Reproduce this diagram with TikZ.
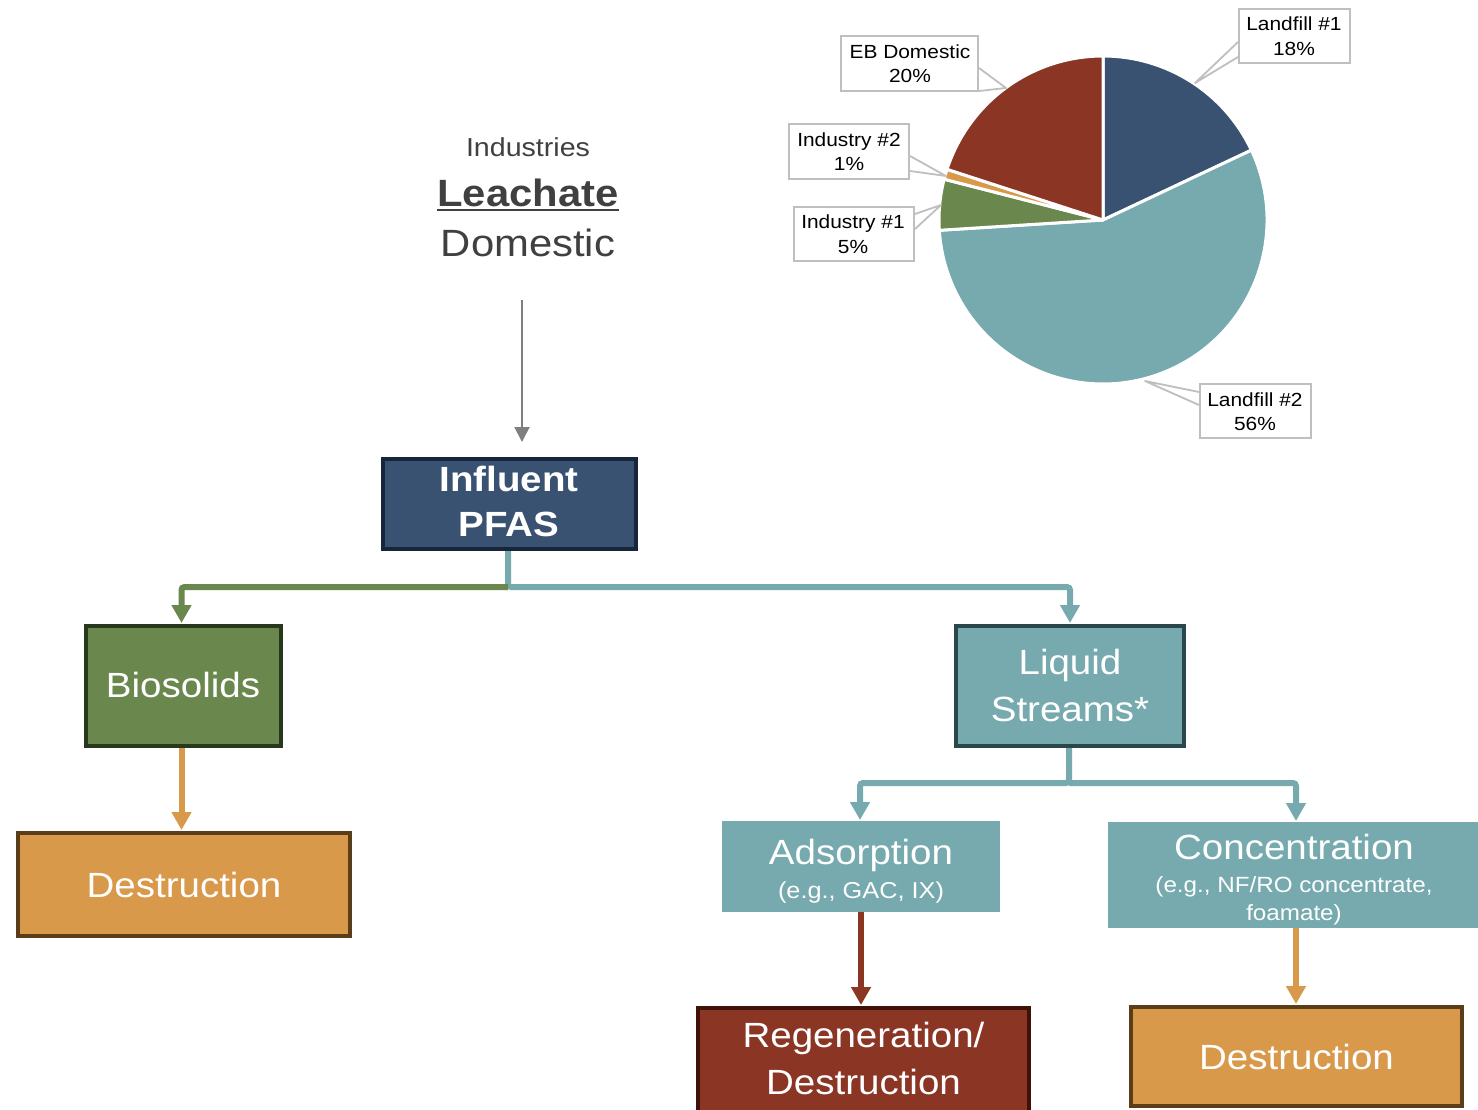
\documentclass[tikz,border=0pt]{standalone}
\usepackage{fontspec}
\setmainfont{Liberation Sans}[FakeStretch=1.1]
\usetikzlibrary{arrows.meta}

\definecolor{navy}{HTML}{3A5272}
\definecolor{navyline}{HTML}{18243A}
\definecolor{tealc}{HTML}{76AAAE}
\definecolor{tealline}{HTML}{2C474B}
\definecolor{greenc}{HTML}{6A874E}
\definecolor{greenline}{HTML}{27381C}
\definecolor{orangec}{HTML}{D9994A}
\definecolor{orangeline}{HTML}{5C3D19}
\definecolor{redc}{HTML}{8B3624}
\definecolor{redline}{HTML}{3E1209}
\definecolor{labelgray}{HTML}{BFBFBF}
\definecolor{titlegray}{HTML}{404040}
\definecolor{arrowgray}{HTML}{7F7F7F}

\newcommand\setfs[1]{\fontsize{#1}{#1}\selectfont}

\begin{document}
\begin{tikzpicture}[x=1pt,y=-1pt,
  box/.style={rectangle, inner sep=0pt, line width=4pt},
  boxtxt/.style={anchor=base, inner sep=0pt, text=white, font=\setfs{35}},
  subtxt/.style={anchor=base, inner sep=0pt, text=white, font=\setfs{#1}},
  pietxt/.style={anchor=base, inner sep=0pt, text=black, font=\setfs{19}},
  pielabel/.style={rectangle, inner sep=0pt, draw=labelgray, fill=white, line width=1.8pt},
  callout/.style={draw=labelgray, line width=1.8pt, line join=round},
  flow/.style={line width=6pt, rounded corners=3pt, -{Triangle[width=19pt,length=18pt]}},
  slice/.style={draw=white, line width=3pt, line join=round}
]
\useasboundingbox (0,0) rectangle (1478,1110);
\clip (0,0) rectangle (1478,1110);
\fill[white] (0,0) rectangle (1478,1110);

% ---------- pie chart of influent sources ----------
\begin{scope}[y=1pt, shift={(1103pt,-220pt)}]
  \filldraw[slice, fill=navy]    (0,0) -- (90:164)    arc[start angle=90,    end angle=25.2,   radius=164] -- cycle;
  \filldraw[slice, fill=tealc]   (0,0) -- (25.2:164)  arc[start angle=25.2,  end angle=-176.4, radius=164] -- cycle;
  \filldraw[slice, fill=greenc]  (0,0) -- (183.6:164) arc[start angle=183.6, end angle=165.6,  radius=164] -- cycle;
  \filldraw[slice, fill=orangec] (0,0) -- (165.6:164) arc[start angle=165.6, end angle=162,    radius=164] -- cycle;
  \filldraw[slice, fill=redc]    (0,0) -- (162:164)   arc[start angle=162,   end angle=90,     radius=164] -- cycle;
\end{scope}

% callout pointers
\coordinate (l1a) at (1238,42);  \coordinate (l1b) at (1238,57);  \coordinate (l1t) at (1195,83);
\coordinate (eba) at (979,68);   \coordinate (ebb) at (979,91);   \coordinate (ebt) at (1006,88);
\coordinate (i2a) at (910,156);  \coordinate (i2b) at (910,171);  \coordinate (i2t) at (946,176);
\coordinate (i1a) at (915,214);  \coordinate (i1b) at (915,229);  \coordinate (i1t) at (941,205);
\coordinate (l2a) at (1199,392); \coordinate (l2b) at (1199,405); \coordinate (l2t) at (1145,381);
\foreach \c in {l1,eb,i2,i1,l2}{
  \fill[white] (\c a) -- (\c t) -- (\c b) -- cycle;
  \draw[callout] (\c a) -- (\c t) -- (\c b);
}

% label boxes
\node[pielabel, minimum width=111, minimum height=54] (boxL1) at (1294.5,36) {};
\node[pielabel, minimum width=137, minimum height=55] (boxEB) at (909.5,63.5) {};
\node[pielabel, minimum width=120, minimum height=55] (boxI2) at (849,151.5) {};
\node[pielabel, minimum width=120, minimum height=54] (boxI1) at (854,234) {};
\node[pielabel, minimum width=111, minimum height=54] (boxL2) at (1255.5,411) {};

\node[pietxt] (tL1a) at (1294,31) {Landfill \#1};
\node[pietxt] (tL1b) at (1294,56) {18\%};
\node[pietxt] (tEBa) at (910,59) {EB Domestic};
\node[pietxt] (tEBb) at (910,83) {20\%};
\node[pietxt] (tI2a) at (849,147) {Industry \#2};
\node[pietxt] (tI2b) at (849,171) {1\%};
\node[pietxt] (tI1a) at (853,229) {Industry \#1};
\node[pietxt] (tI1b) at (853,254) {5\%};
\node[pietxt] (tL2a) at (1255,406) {Landfill \#2};
\node[pietxt] (tL2b) at (1255,430) {56\%};

% ---------- sources heading ----------
\node[anchor=base, inner sep=0pt, text=titlegray, font=\setfs{26}] (ind) at (528,157) {Industries};
\node[anchor=base, inner sep=0pt, text=titlegray, font=\bfseries\setfs{38}] (lea) at (528,207) {Leachate};
\node[anchor=base, inner sep=0pt, text=titlegray, font=\setfs{38}] (dom) at (528,257) {Domestic};
\draw[titlegray, line width=2.5pt] ([yshift=-3pt]lea.base west) -- ([yshift=-3pt]lea.base east);

\coordinate (srcA) at (522,300);
\coordinate (srcB) at (522,442);
\draw[arrowgray, line width=2pt, -{Triangle[width=15pt,length=15pt]}] (srcA) -- (srcB);

% ---------- process boxes ----------
\node[box, fill=navy, draw=navyline, minimum width=253, minimum height=90] (pfas) at (509.5,504) {};
\node[box, fill=greenc, draw=greenline, minimum width=195, minimum height=120] (bio) at (183.5,686) {};
\node[box, fill=orangec, draw=orangeline, minimum width=332, minimum height=103] (desL) at (184,884.5) {};
\node[box, fill=tealc, draw=tealline, minimum width=228, minimum height=120] (liq) at (1070,686) {};
\node[box, fill=tealc, line width=0pt, minimum width=278, minimum height=91] (ads) at (861,866.5) {};
\node[box, fill=tealc, line width=0pt, minimum width=372, minimum height=106] (con) at (1294,875) {};
\node[box, fill=redc, draw=redline, minimum width=331, minimum height=110] (reg) at (863.5,1063) {};
\node[box, fill=orangec, draw=orangeline, minimum width=331, minimum height=99] (desR) at (1296.5,1056.5) {};

\node[boxtxt, font=\bfseries\setfs{35}] (tInf1) at (509,491) {Influent};
\node[boxtxt, font=\bfseries\setfs{35}] (tInf2) at (509,536) {PFAS};
\node[boxtxt] (tBio) at (183,697.5) {Biosolids};
\node[boxtxt] (tDesL) at (184,897) {Destruction};
\node[boxtxt] (tLiq1) at (1070,674.5) {Liquid};
\node[boxtxt] (tLiq2) at (1070,721.5) {Streams*};
\node[boxtxt] (tAds1) at (861,864.5) {Adsorption};
\node[subtxt=23] (tAds2) at (861,898) {(e.g., GAC, IX)};
\node[boxtxt] (tCon1) at (1294,859.5) {Concentration};
\node[subtxt=22] (tCon2) at (1294,892) {(e.g., NF/RO concentrate,};
\node[subtxt=22] (tCon3) at (1294,920) {foamate)};
\node[boxtxt] (tReg1) at (863.5,1047.5) {Regeneration/};
\node[boxtxt] (tReg2) at (863.5,1094.5) {Destruction};
\node[boxtxt] (tDesR) at (1296.5,1069.5) {Destruction};

% ---------- connectors ----------
\coordinate (j1) at (508,587);
\coordinate (j2) at (1069,783);
\draw[flow, tealc] (pfas.south -| j1) -- (j1) -| ([yshift=1pt]liq.north);
\draw[flow, greenc] (j1) -| ([xshift=-2pt,yshift=1pt]bio.north);
\draw[flow, orangec] ([xshift=-2pt]bio.south) -- ([xshift=-2pt,yshift=1pt]desL.north -| bio.south);
\draw[flow, tealc] (liq.south -| j2) -- (j2) -| ([yshift=1pt]ads.north -| 860,0);
\draw[flow, tealc] (j2) -| ([yshift=1pt]con.north -| 1296,0);
\draw[flow, redc] (ads.south -| 861,0) -- ([yshift=1pt]reg.north -| 861,0);
\draw[flow, orangec] (con.south -| 1296,0) -- ([yshift=1pt]desR.north -| 1296,0);
\end{tikzpicture}
\end{document}
